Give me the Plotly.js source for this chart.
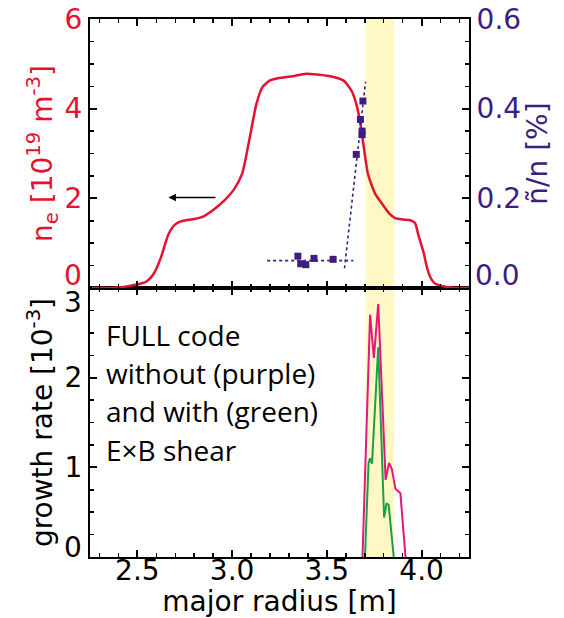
<!DOCTYPE html>
<html>
<head>
<meta charset="utf-8">
<script src="https://cdn.plot.ly/plotly-3.0.1.min.js"></script>
<style>html,body{margin:0;padding:0;background:#fff;}</style>
</head>
<body>
<div id="chart" style="width:564px;height:618px;"></div>
<script>
// ---- data ----
const densityR = [2.26, 2.40, 2.464, 2.52, 2.55, 2.588, 2.626, 2.664, 2.70, 2.74, 2.80, 2.85, 2.90, 2.958, 3.01, 3.053, 3.09, 3.128, 3.16, 3.20, 3.26, 3.33, 3.39, 3.45, 3.53, 3.59, 3.63, 3.66, 3.68, 3.70, 3.717, 3.755, 3.793, 3.83, 3.86, 3.90, 3.94, 3.965, 3.983, 4.01, 4.027, 4.045, 4.07, 4.15, 4.25];
const densityNe = [0, 0.01, 0.05, 0.10, 0.15, 0.33, 0.70, 1.20, 1.42, 1.50, 1.54, 1.60, 1.74, 1.95, 2.20, 2.55, 3.29, 4.10, 4.48, 4.63, 4.69, 4.73, 4.78, 4.76, 4.71, 4.62, 4.40, 4.03, 3.58, 2.99, 2.54, 2.10, 1.87, 1.66, 1.56, 1.53, 1.51, 1.45, 1.18, 0.80, 0.48, 0.25, 0.10, 0.01, 0];

const flucR = [3.347, 3.362, 3.389, 3.432, 3.533, 3.655, 3.677, 3.686, 3.686, 3.690];
const flucVal = [0.071, 0.054, 0.052, 0.066, 0.064, 0.298, 0.376, 0.350, 0.342, 0.417];

const fitFlatR = [3.185, 3.64];
const fitFlatVal = [0.061, 0.061];
const fitSteepR = [3.593, 3.704];
const fitSteepVal = [0.044, 0.46];

const growthNoShearR = [3.688, 3.728, 3.748, 3.771, 3.81, 3.828, 3.843, 3.862, 3.888, 3.915];
const growthNoShear = [0, 2.70, 2.22, 2.82, 0.86, 1.05, 0.98, 0.76, 0.71, 0];
const growthShearR = [3.701, 3.72, 3.728, 3.738, 3.771, 3.802, 3.815, 3.826, 3.853];
const growthShear = [0, 1.05, 1.10, 1.04, 2.34, 0.44, 0.60, 0.58, 0];

const bandRange = [3.703, 3.855];
const arrowTail = [2.92, 2.02];
const arrowHead = [2.664, 2.02];

const neTicks = [0, 2, 4, 6];
const flucTicks = [0, 0.2, 0.4, 0.6];
const growthTicks = [0, 1, 2, 3];
const noteLines = ['FULL code', 'without (purple)', 'and with (green)', 'E×B shear'];

// ---- styles ----
const F = '"DejaVu Sans", Verdana, sans-serif';
const TICK = 28, TITLE = 28;
const RED = '#E5122F';
const PURPLE = '#3D1D80';
const MAGENTA = '#E2177F';
const GREEN = '#1B9E4B';

const traces = [
  {x: densityR, y: densityNe, xaxis: 'x2', yaxis: 'y', mode: 'lines',
   line: {color: RED, width: 2.5, shape: 'spline', smoothing: 0.6}},
  {x: fitFlatR, y: fitFlatVal, xaxis: 'x2', yaxis: 'y2', mode: 'lines',
   line: {color: PURPLE, width: 1.6, dash: 'dot'}},
  {x: fitSteepR, y: fitSteepVal, xaxis: 'x2', yaxis: 'y2', mode: 'lines',
   line: {color: PURPLE, width: 1.6, dash: 'dot'}},
  {x: flucR, y: flucVal, xaxis: 'x2', yaxis: 'y2', mode: 'markers',
   marker: {symbol: 'square', size: 7, color: PURPLE}},
  {x: growthNoShearR, y: growthNoShear, xaxis: 'x', yaxis: 'y3', mode: 'lines',
   line: {color: MAGENTA, width: 2}},
  {x: growthShearR, y: growthShear, xaxis: 'x', yaxis: 'y3', mode: 'lines',
   line: {color: GREEN, width: 2}}
];

const xCommon = {
  range: [2.25, 4.25], tickmode: 'linear', tick0: 2.5, dtick: 0.5,
  ticks: 'inside', ticklen: 7, tickwidth: 2, tickcolor: 'black',
  minor: {tickmode: 'linear', tick0: 2.5, dtick: 0.1, ticks: 'inside', ticklen: 4, tickwidth: 1.5, tickcolor: 'black', showgrid: false},
  showline: true, linewidth: 2, linecolor: 'black', mirror: 'ticks',
  showgrid: false, zeroline: false
};

const layout = {
  width: 564, height: 618,
  margin: {l: 90, r: 95, t: 19, b: 61},
  paper_bgcolor: 'white', plot_bgcolor: 'white',
  showlegend: false,
  font: {family: F, color: 'black'},
  xaxis: Object.assign({}, xCommon, {
    domain: [0, 1], anchor: 'y3', tickformat: '.1f', ticklabelstandoff: -13,
    tickfont: {family: F, size: TICK, color: 'black'},
    title: {text: 'major radius [m]', font: {family: F, size: TITLE, color: 'black'}, standoff: 0}
  }),
  xaxis2: Object.assign({}, xCommon, {
    domain: [0, 1], anchor: 'y', matches: 'x', showticklabels: false
  }),
  yaxis: {
    domain: [0.5, 1], anchor: 'x2', range: [0, 6],
    tickmode: 'array', tickvals: neTicks, ticktext: neTicks.map(v => v === 0 ? '' : String(v)),
    ticks: 'inside', ticklen: 7, tickwidth: 2, tickcolor: 'black',
    minor: {tickmode: 'linear', tick0: 0, dtick: 0.5, ticks: 'inside', ticklen: 4, tickwidth: 1.5, tickcolor: 'black', showgrid: false},
    showline: true, linewidth: 2, linecolor: 'black',
    tickfont: {family: F, size: TICK, color: RED},
    title: {text: 'n<sub>e</sub> [10<sup>19</sup> m<sup>-3</sup>]', font: {family: F, size: TITLE, color: RED}, standoff: 4},
    showgrid: false, zeroline: false
  },
  yaxis2: {
    overlaying: 'y', side: 'right', anchor: 'x2', range: [0, 0.6],
    tickmode: 'array', tickvals: flucTicks, ticktext: flucTicks.map(v => v === 0 ? '' : v.toFixed(1)),
    ticks: 'inside', ticklen: 7, tickwidth: 2, tickcolor: 'black',
    minor: {tickmode: 'linear', tick0: 0, dtick: 0.05, ticks: 'inside', ticklen: 4, tickwidth: 1.5, tickcolor: 'black', showgrid: false},
    showline: true, linewidth: 2, linecolor: 'black',
    tickfont: {family: F, size: TICK, color: PURPLE},
    title: {text: 'ñ/n [%]', font: {family: F, size: TITLE, color: PURPLE}, standoff: 6},
    showgrid: false, zeroline: false
  },
  yaxis3: {
    domain: [0, 0.5], anchor: 'x', range: [0, 3],
    tickmode: 'array', tickvals: growthTicks, ticktext: growthTicks.map(v => (v === 0 || v === 3) ? '' : String(v)),
    ticks: 'inside', ticklen: 7, tickwidth: 2, tickcolor: 'black',
    minor: {tickmode: 'linear', tick0: 0, dtick: 0.25, ticks: 'inside', ticklen: 4, tickwidth: 1.5, tickcolor: 'black', showgrid: false},
    showline: true, linewidth: 2, linecolor: 'black', mirror: 'ticks',
    tickfont: {family: F, size: TICK, color: 'black'},
    title: {text: 'growth rate [10<sup>-3</sup>]', font: {family: F, size: TITLE, color: 'black'}, standoff: 4},
    showgrid: false, zeroline: false
  },
  shapes: [
    {type: 'rect', xref: 'x', yref: 'paper', x0: bandRange[0], x1: bandRange[1], y0: 0, y1: 1,
     fillcolor: '#FFF8C4', line: {width: 0}, layer: 'below'}
  ],
  annotations: [
    {x: arrowHead[0], y: arrowHead[1], ax: arrowTail[0], ay: arrowTail[1],
     xref: 'x2', yref: 'y', axref: 'x2', ayref: 'y', text: '', showarrow: true,
     arrowhead: 2, arrowsize: 1, arrowwidth: 1.5, arrowcolor: 'black'},
    // end tick labels nudged inward as in the original
    {xref: 'paper', x: 0, xanchor: 'right', xshift: -6, yref: 'y', y: neTicks[0], yanchor: 'middle', yshift: 13,
     text: String(neTicks[0]), showarrow: false, font: {family: F, size: TICK, color: RED}},
    {xref: 'paper', x: 1, xanchor: 'left', xshift: 4, yref: 'y2', y: flucTicks[0], yanchor: 'middle', yshift: 13,
     text: flucTicks[0].toFixed(1), showarrow: false, font: {family: F, size: TICK, color: PURPLE}},
    {xref: 'paper', x: 0, xanchor: 'right', xshift: -6, yref: 'y3', y: growthTicks[3], yanchor: 'middle', yshift: -14,
     text: String(growthTicks[3]), showarrow: false, font: {family: F, size: TICK, color: 'black'}},
    {xref: 'paper', x: 0, xanchor: 'right', xshift: -6, yref: 'y3', y: growthTicks[0], yanchor: 'middle', yshift: 10,
     text: String(growthTicks[0]), showarrow: false, font: {family: F, size: TICK, color: 'black'}}
  ].concat(noteLines.map((t, i) => ({
    xref: 'paper', x: 0.036, xanchor: 'left', yref: 'paper', y: 0.4129 - i * 0.0712, yanchor: 'middle',
    text: t, showarrow: false, font: {family: '"Open Sans", Lato, sans-serif', size: 28, color: 'black'}
  })))
};

Plotly.newPlot('chart', traces, layout, {displayModeBar: false, staticPlot: true});
</script>
</body>
</html>
